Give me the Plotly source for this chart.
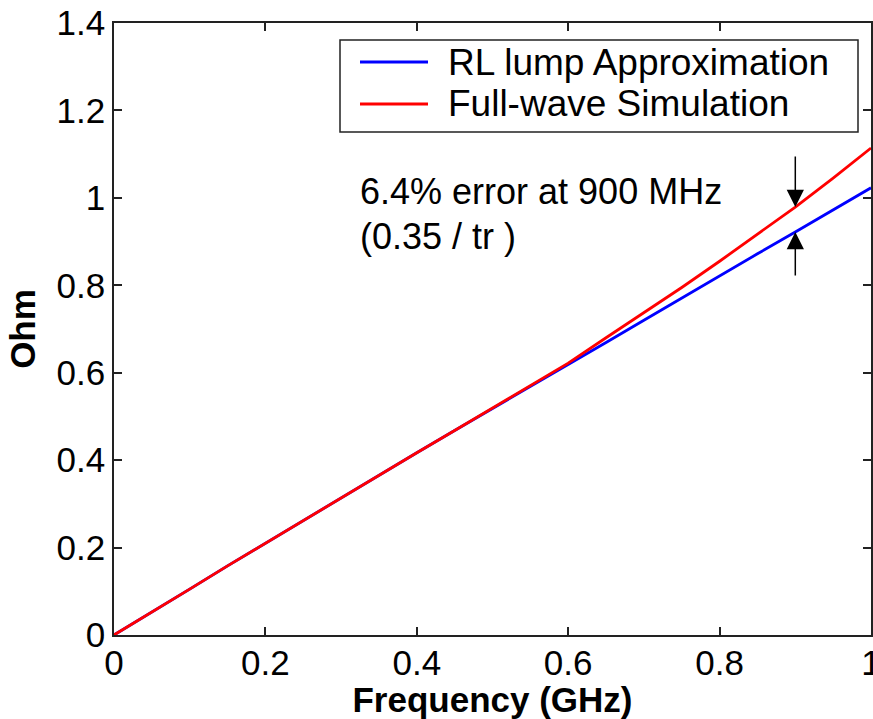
import numpy as np
import plotly.graph_objects as go

# ---- data ----
freq_ghz = [0.0, 0.05, 0.1, 0.15, 0.2, 0.25, 0.3, 0.35, 0.4, 0.45, 0.5,
            0.55, 0.6, 0.65, 0.7, 0.75, 0.8, 0.85, 0.9, 0.95, 1.0]
rl_lump = [0.0, 0.052, 0.105, 0.158, 0.210, 0.263, 0.314, 0.366, 0.417, 0.468, 0.518,
           0.568, 0.618, 0.669, 0.720, 0.771, 0.822, 0.872, 0.922, 0.972, 1.023]
full_wave = [0.0, 0.052, 0.105, 0.158, 0.210, 0.263, 0.314, 0.366, 0.417, 0.468, 0.519,
             0.570, 0.622, 0.680, 0.737, 0.795, 0.855, 0.916, 0.979, 1.045, 1.114]
series_names = ["RL lump Approximation", "Full-wave Simulation"]
series_colors = ["#0000ff", "#ff0000"]
y_ticks = [0, 0.2, 0.4, 0.6, 0.8, 1, 1.2, 1.4]
x_ticks = [0, 0.2, 0.4, 0.6, 0.8, 1]
note_freq = 0.9
note_lines = ["6.4% error at 900 MHz", "(0.35 / tr )"]

W, H = 873, 719
L, T, R, B = 114, 23, 2, 84
PW, PH = W - L - R, H - T - B
FONT = "Liberation Sans, Arial, sans-serif"

def px(xp):
    return (xp - L) / PW

def py(yp):
    return (T + PH - yp) / PH

fig = go.Figure()
for name, vals, col in zip(series_names, [rl_lump, full_wave], series_colors):
    fig.add_trace(go.Scatter(x=freq_ghz, y=vals, mode="lines", name=name,
                             line=dict(color=col, width=2.8), showlegend=False))

axis_common = dict(showgrid=False, zeroline=False, showline=True, linecolor="#222",
                   linewidth=1.5, mirror="ticks", ticks="inside", ticklen=8,
                   tickwidth=1.5, tickcolor="#222", ticklabeloverflow="allow",
                   tickfont=dict(family=FONT, size=35, color="black"))

fig.update_layout(
    width=W, height=H,
    margin=dict(l=L, r=R, t=T, b=B, autoexpand=False),
    paper_bgcolor="white", plot_bgcolor="white",
    xaxis=dict(range=[0, 1], tickvals=x_ticks, automargin=False, ticklabelstandoff=-4,
               title=dict(text="<b>Frequency (GHz)</b>", standoff=9,
                          font=dict(family=FONT, size=35, color="black")),
               **axis_common),
    yaxis=dict(range=[0, 1.4], tickvals=y_ticks, automargin=False,
               title=dict(text="<b>Ohm</b>", standoff=10,
                          font=dict(family=FONT, size=35, color="black")),
               **axis_common),
)

# annotation text
fig.add_annotation(x=px(358), y=py(191), xref="paper", yref="paper",
                   text=note_lines[0], showarrow=False, xanchor="left", yanchor="middle",
                   font=dict(family=FONT, size=36, color="black"))
fig.add_annotation(x=px(358), y=py(236), xref="paper", yref="paper",
                   text=note_lines[1], showarrow=False, xanchor="left", yanchor="middle",
                   font=dict(family=FONT, size=36, color="black"))

# arrows pointing at the two curves at 900 MHz
red_at = float(np.interp(note_freq, freq_ghz, full_wave))
blue_at = float(np.interp(note_freq, freq_ghz, rl_lump))
fig.add_annotation(x=note_freq, y=red_at, xref="x", yref="y", text="", showarrow=True,
                   ax=0, ay=-52, arrowhead=2, arrowsize=2.3, arrowwidth=1.5,
                   arrowcolor="black")
fig.add_annotation(x=note_freq, y=blue_at, xref="x", yref="y", text="", showarrow=True,
                   ax=0, ay=45, arrowhead=2, arrowsize=2.3, arrowwidth=1.5,
                   arrowcolor="black")

# manual legend (box, sample lines, labels)
fig.add_shape(type="rect", xref="paper", yref="paper",
              x0=px(340), x1=px(858), y0=py(132), y1=py(40),
              line=dict(color="#222", width=1.5), fillcolor="white", layer="above")
for i, (name, col) in enumerate(zip(series_names, series_colors)):
    row_y = [62, 104][i]
    fig.add_shape(type="line", xref="paper", yref="paper",
                  x0=px(360), x1=px(428), y0=py(row_y), y1=py(row_y),
                  line=dict(color=col, width=2.8), layer="above")
    fig.add_annotation(x=px(446), y=py(row_y), xref="paper", yref="paper",
                       text=name, showarrow=False, xanchor="left", yanchor="middle",
                       font=dict(family=FONT, size=37, color="black"))

fig.write_html("out.html", config={"displayModeBar": False},
               post_script="document.body.style.margin='0';document.body.style.overflow='hidden';")
